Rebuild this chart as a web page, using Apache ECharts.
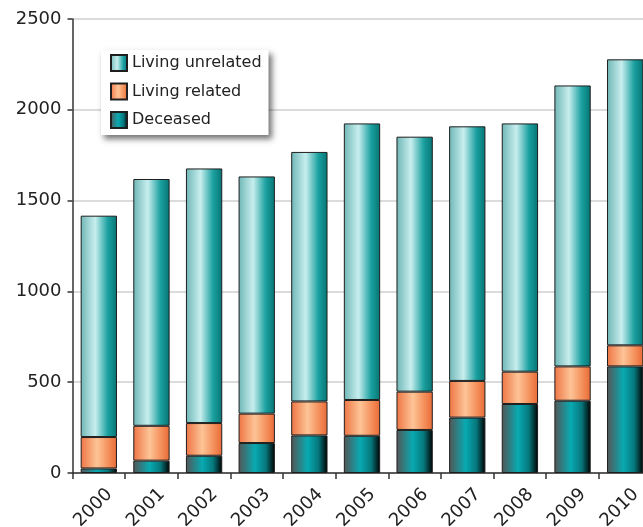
<!DOCTYPE html>
<html>
<head>
<meta charset="utf-8">
<script src="https://cdn.jsdelivr.net/npm/echarts@6/dist/echarts.min.js"></script>
<style>
  html, body { margin: 0; padding: 0; background: #fff; }
  #chart { width: 643px; height: 527px; }
</style>
</head>
<body>
<div id="chart"></div>
<script>
// data
const years = ['2000', '2001', '2002', '2003', '2004', '2005', '2006', '2007', '2008', '2009', '2010']
const deceased = [25, 68, 95, 165, 207, 205, 237, 305, 380, 398, 587]
const livingRelated = [173, 192, 180, 162, 187, 197, 211, 202, 178, 189, 116]
const livingUnrelated = [1219, 1359, 1402, 1306, 1374, 1523, 1404, 1402, 1367, 1547, 1575]
const yTicks = [0, 500, 1000, 1500, 2000, 2500]

const font = 'DejaVu Sans'

// horizontal shading, like a cylinder
const shade = (stops) => new echarts.graphic.LinearGradient(0, 0, 1, 0,
  stops.map(([offset, color]) => ({ offset, color })))

const unrelatedColor = shade([[0, '#6fb6b6'], [0.4, '#c8eeee'], [0.75, '#1aa0a0'], [1, '#077474']])
const relatedColor = shade([[0, '#ee7444'], [0.45, '#fdc496'], [0.8, '#f38a55'], [1, '#e86a36']])
const deceasedColor = shade([[0, '#555555'], [0.45, '#08aab2'], [0.75, '#06777c'], [1, '#000000']])

const chart = echarts.init(document.getElementById('chart'))

const barSeries = (name, data, color) => ({
  name,
  type: 'bar',
  stack: 'total',
  data,
  barCategoryGap: '31%',
  itemStyle: {
    color,
    borderColor: '#1e1e1e',
    borderWidth: 1
  }
})

chart.setOption({
  animation: false,
  backgroundColor: '#fff',
  grid: {
    left: 72.5,
    top: 19,
    width: 579,
    height: 454,
    outerBoundsMode: 'none'
  },
  legend: {
    orient: 'vertical',
    left: 101,
    top: 50,
    data: ['Living unrelated', 'Living related', 'Deceased'],
    icon: 'rect',
    itemWidth: 16,
    itemHeight: 16,
    itemGap: 10.5,
    padding: [4, 7, 6, 9],
    backgroundColor: '#fff',
    shadowColor: 'rgba(0, 0, 0, 0.55)',
    shadowBlur: 6,
    shadowOffsetX: 3,
    shadowOffsetY: 4,
    textStyle: {
      fontFamily: font,
      fontSize: 16,
      color: '#222'
    }
  },
  xAxis: {
    type: 'category',
    data: years,
    axisLine: { lineStyle: { color: '#333', width: 1.5 } },
    axisTick: { show: true, length: 6, lineStyle: { color: '#333', width: 1.5 } },
    axisLabel: {
      rotate: 45,
      margin: 8,
      align: 'right',
      verticalAlign: 'top',
      lineHeight: 30,
      fontFamily: font,
      fontSize: 18,
      color: '#222'
    }
  },
  yAxis: {
    type: 'value',
    min: yTicks[0],
    max: yTicks[yTicks.length - 1],
    interval: 500,
    axisLine: { show: true, lineStyle: { color: '#333', width: 1.5 } },
    axisTick: { show: true, length: 5, lineStyle: { color: '#333', width: 1.5 } },
    axisLabel: {
      margin: 11,
      formatter: (v) => String(v),
      fontFamily: font,
      fontSize: 18,
      color: '#222'
    },
    splitLine: { lineStyle: { color: '#cfcfcf', width: 1.5 } }
  },
  series: [
    barSeries('Deceased', deceased, deceasedColor),
    barSeries('Living related', livingRelated, relatedColor),
    barSeries('Living unrelated', livingUnrelated, unrelatedColor)
  ]
})
</script>
</body>
</html>
